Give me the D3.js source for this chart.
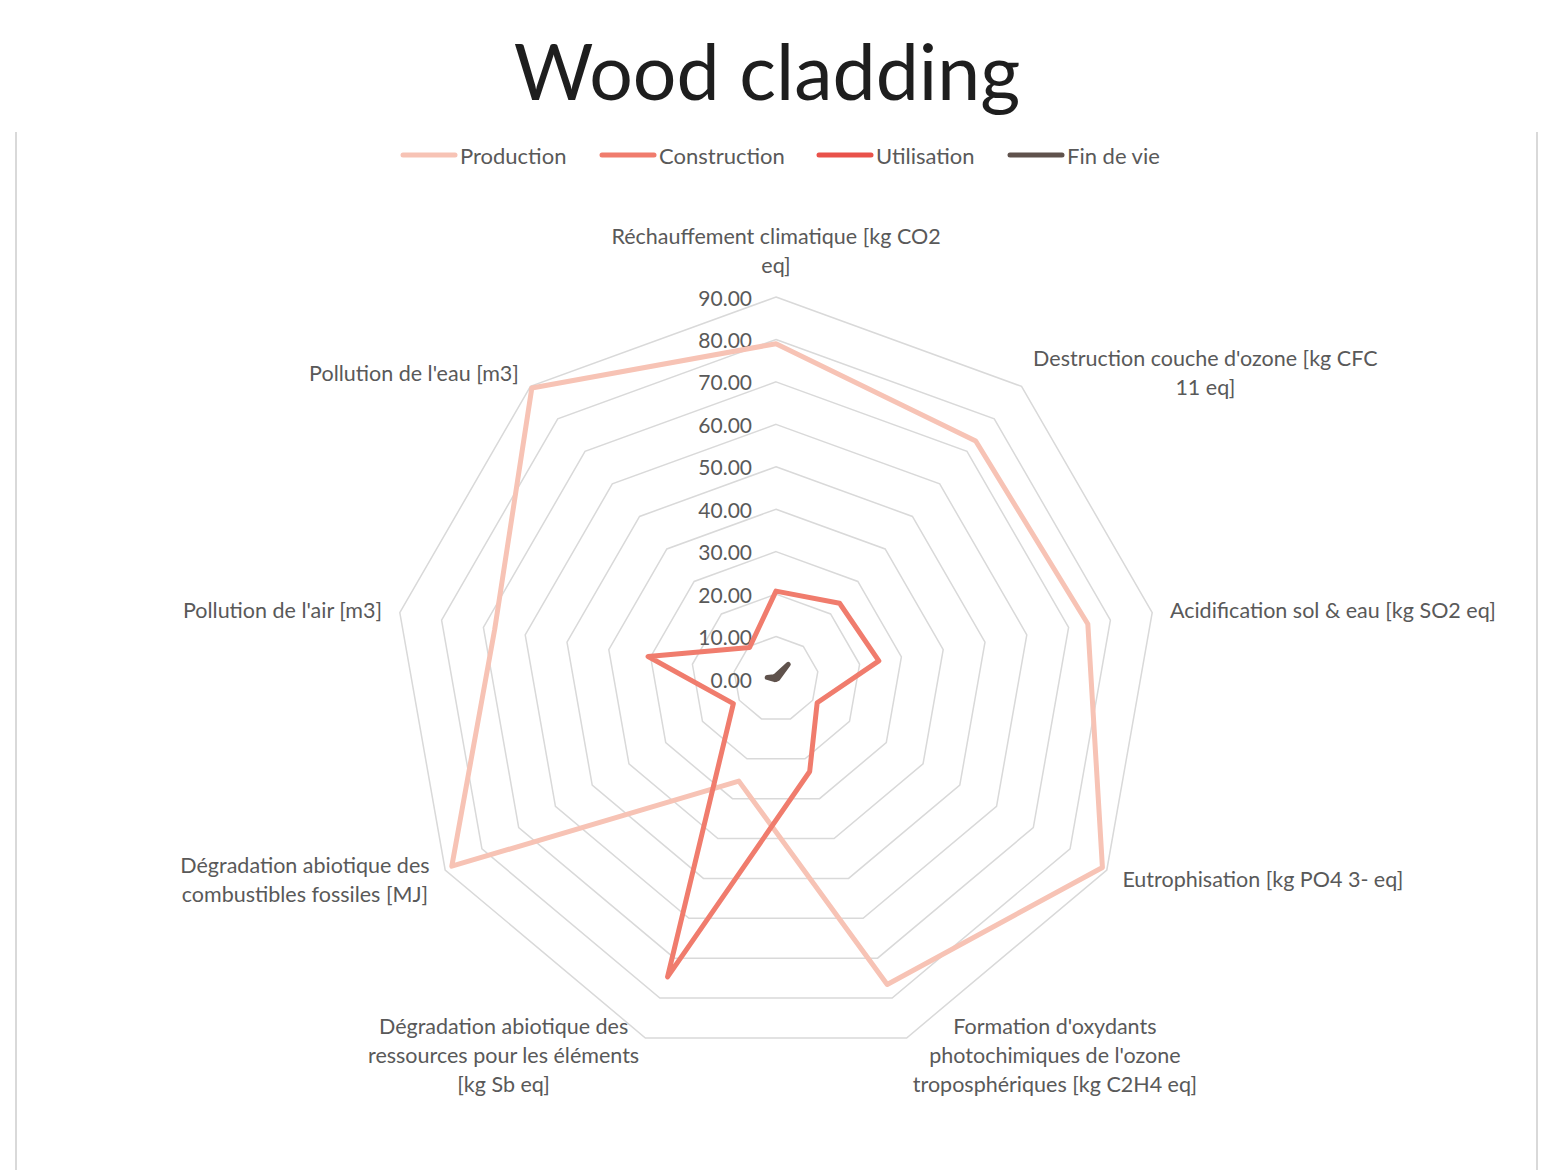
<!doctype html>
<html lang="fr">
<head>
<meta charset="UTF-8">
<title>Wood cladding</title>
<script src="https://d3js.org/d3.v7.min.js"></script>
<style>
  body { margin: 0; background: #fff; }
  text { font-family: Lato, "Open Sans", sans-serif; fill: #595959; }
</style>
</head>
<body>
<div id="chart-area"></div>
<script>
// categories, clockwise from the top; each entry is the wrapped label
const categories = [
    ["Réchauffement climatique [kg CO2", "eq]"],
    ["Destruction couche d'ozone [kg CFC", "11 eq]"],
    ["Acidification sol & eau [kg SO2 eq]"],
    ["Eutrophisation [kg PO4 3- eq]"],
    ["Formation d'oxydants", "photochimiques de l'ozone", "troposphériques [kg C2H4 eq]"],
    ["Dégradation abiotique des", "ressources pour les éléments", "[kg Sb eq]"],
    ["Dégradation abiotique des", "combustibles fossiles [MJ]"],
    ["Pollution de l'air [m3]"],
    ["Pollution de l'eau [m3]"]
];

const production   = [79.0, 73.2, 74.6, 88.8, 76.6, 25.6, 88.2, 67.3, 89.5];
const construction = [20.7, 23.3, 24.6, 11.2, 23.2, 74.7, 11.6, 30.6, 9.7];
const utilisation  = [0, 0, 0, 0, 0, 0, 0, 0, 0];
const finDeVie     = [0.8, 4.5, 0.4, 0.1, 0.1, 0.1, 0.3, 2.1, 0.7];

const seriesNames = ["Production", "Construction", "Utilisation", "Fin de vie"];
const seriesColors = ["#F7C3B5", "#F07C6D", "#E9524A", "#5F524C"];
const ticks = [0, 10, 20, 30, 40, 50, 60, 70, 80, 90];

const W = 1542, H = 1170;
const cx = 776, cy = 679, R = 382;

const svg = d3.select('#chart-area')
    .append('svg')
    .attr('width', W)
    .attr('height', H);

// frame of the chart area (only sides visible)
svg.append('line').attr('x1', 16).attr('x2', 16).attr('y1', 132).attr('y2', H)
    .attr('stroke', '#D9D9D9').attr('stroke-width', 2);
svg.append('line').attr('x1', 1537).attr('x2', 1537).attr('y1', 132).attr('y2', H)
    .attr('stroke', '#D9D9D9').attr('stroke-width', 2);

// title
svg.append('text')
    .attr('x', 767).attr('y', 100)
    .attr('text-anchor', 'middle')
    .style('font-size', '77px')
    .style('font-weight', 400)
    .style('fill', '#1E1E1E')
    .text('Wood cladding');

const r = d3.scaleLinear().domain([0, 90]).range([0, R]);
const angle = d3.scaleLinear().domain([0, categories.length]).range([0, 2 * Math.PI]);

const pt = (i, v) => [cx + r(v) * Math.sin(angle(i)), cy - r(v) * Math.cos(angle(i))];

// grid rings
const idx = d3.range(categories.length);
svg.append('g').selectAll('polygon')
    .data(ticks.filter(t => t > 0))
    .enter()
    .append('polygon')
    .attr('points', t => idx.map(i => pt(i, t).join(',')).join(' '))
    .attr('fill', 'none')
    .attr('stroke', '#D9D9D9')
    .attr('stroke-width', 1.5);

// tick labels
svg.append('g').selectAll('text')
    .data(ticks)
    .enter()
    .append('text')
    .attr('x', cx - 24)
    .attr('y', t => cy - r(t))
    .attr('text-anchor', 'end')
    .attr('dominant-baseline', 'central')
    .style('font-size', '21px')
    .text(t => t.toFixed(2));

// category labels
const lineH = 29;
const labG = svg.append('g');
categories.forEach((lines, i) => {
    const a = angle(i);
    const s = Math.sin(a), c = Math.cos(a);
    const [vx, vy] = pt(i, 90);
    const ax = vx + 18 * s, ay = vy - 18 * c;
    const g = labG.append('g');
    const texts = g.selectAll('text').data(lines).enter().append('text')
        .attr('text-anchor', 'middle')
        .attr('dominant-baseline', 'central')
        .style('font-size', '21.5px')
        .text(d => d);
    const bw = d3.max(texts.nodes(), n => n.getComputedTextLength());
    const bh = lines.length * lineH;
    let mx;
    if (Math.abs(s) < 0.05) mx = ax;
    else if (s > 0) mx = ax + bw / 2;
    else mx = ax - bw / 2;
    let top;
    if (Math.abs(s) < 0.05) top = c > 0 ? ay - bh : ay;
    else top = ay - bh / 2;
    texts.attr('x', mx).attr('y', (d, k) => top + lineH * (k + 0.5));
});

// series
const data = [production, construction, utilisation, finDeVie];
const line = d3.lineRadial()
    .angle((d, i) => angle(i))
    .radius(d => r(d))
    .curve(d3.curveLinearClosed);

svg.append('g')
    .attr('transform', `translate(${cx},${cy})`)
    .selectAll('path')
    .data(data)
    .enter()
    .append('path')
    .attr('d', d => line(d))
    .attr('fill', 'none')
    .attr('stroke', (d, i) => seriesColors[i])
    .attr('stroke-width', 5)
    .attr('stroke-linejoin', 'round')
    .attr('stroke-linecap', 'round');

// legend
const legendX = [403, 602, 819, 1010];
const lg = svg.append('g').selectAll('g')
    .data(seriesNames)
    .enter()
    .append('g')
    .attr('transform', (d, i) => `translate(${legendX[i]},155)`);
lg.append('line')
    .attr('x1', 0).attr('x2', 52)
    .attr('stroke', (d, i) => seriesColors[i])
    .attr('stroke-width', 5)
    .attr('stroke-linecap', 'round');
lg.append('text')
    .attr('x', 57)
    .attr('dominant-baseline', 'central')
    .style('font-size', '22px')
    .text(d => d);
</script>
</body>
</html>
